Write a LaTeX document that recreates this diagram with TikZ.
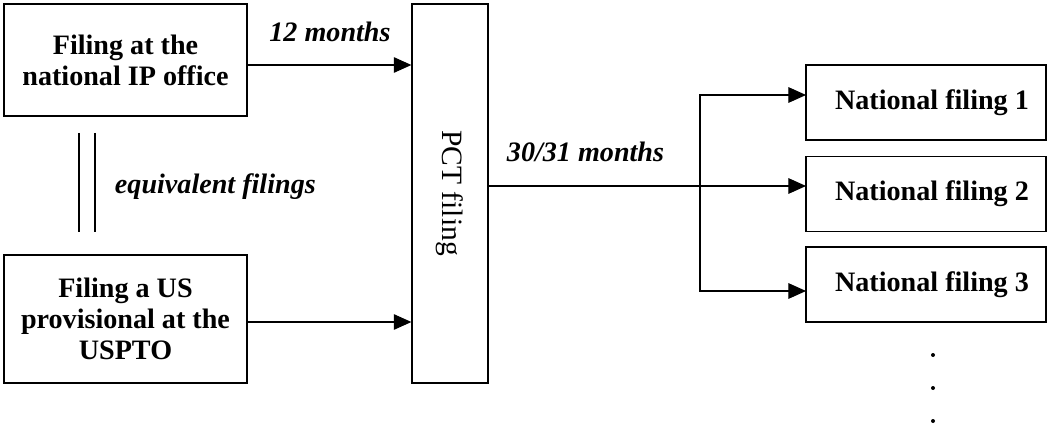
\documentclass[tikz,border=0pt]{standalone}
\usepackage{fontspec}
\setmainfont{Liberation Serif}
\usetikzlibrary{arrows.meta,positioning,calc}

\tikzset{
  filebox/.style={draw, line width=0.9pt, align=center, inner sep=2pt, font=\fontsize{20}{22}\selectfont\bfseries},
  natbox/.style={filebox, minimum width=6cm, minimum height=1.875cm},
  arr/.style={line width=0.75pt, -{Triangle[length=4.4mm, width=3.9mm]}},
  lbl/.style={font=\fontsize{20}{22}\selectfont\bfseries\itshape}
}

\begin{document}
\begin{tikzpicture}[x=0.025cm, y=-0.025cm]
    \useasboundingbox (0,0) rectangle (1047,427);

    % Left side filings
    \node[filebox, minimum width=6.075cm, minimum height=2.8cm] (natoffice) at (125.5,60) {Filing at the\\national IP office};
    \node[filebox, minimum width=6.075cm, minimum height=3.2cm] (usprov) at (125.5,319) {Filing a US\\provisional at the\\USPTO};

    % equivalence marker
    \draw[line width=0.75pt] (79,133) -- (79,232);
    \draw[line width=0.75pt] (95,133) -- (95,232);
    \node[lbl, anchor=west] (equiv) at (110,187) {equivalent filings};

    % PCT filing
    \node[draw, line width=0.9pt, minimum width=1.9cm, minimum height=9.475cm, inner sep=0pt] (pct) at (450,193.5) {};
    \node[rotate=-90, font=\fontsize{21}{22}\selectfont] (pcttext) at (450,193) {PCT filing};

    % into PCT
    \draw[arr] ($(natoffice.east)+(0,5)$) -- ($(natoffice.east -| pct.west)+(0,5)$);
    \node[lbl] (twelve) at (330,32) {12 months};
    \draw[arr] ($(usprov.east)+(0,3)$) -- ($(usprov.east -| pct.west)+(0,3)$);

    % National filings
    \node[natbox] (nat1) at (926,102.5) {\hspace*{0.3cm}National filing 1};
    \node[natbox] (nat2) at (926,194) {\hspace*{0.3cm}National filing 2};
    \node[natbox] (nat3) at (926,284.5) {\hspace*{0.3cm}National filing 3};

    % out of PCT
    \coordinate (fan) at (700,186);
    \coordinate (in1) at (806,95);
    \coordinate (in2) at (806,186);
    \coordinate (in3) at (806,291);
    \draw[arr] (pct.east |- fan) -- (in2);
    \draw[arr] (fan) |- (in1);
    \draw[arr] (fan) |- (in3);
    \node[lbl, anchor=west] (thirty) at (502,152) {30/31 months};

    % more filings
    \foreach \y in {355,388,421}
        \fill (933,\y) circle (0.05cm);
\end{tikzpicture}
\end{document}
